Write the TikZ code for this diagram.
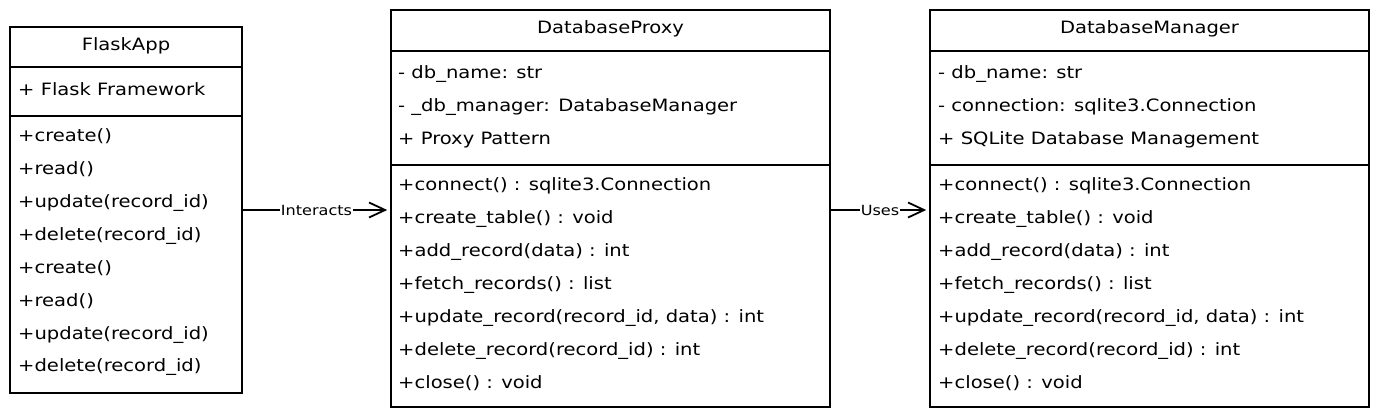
\documentclass[tikz,border=0pt]{standalone}
\usepackage{fontspec}
\setmainfont{DejaVu Sans}[FakeStretch=1.15]
\usetikzlibrary{arrows.meta}

\tikzset{
  classbox/.style={draw, line width=1.6pt, inner sep=0pt},
  divider/.style={line width=1.2pt},
  classtitle/.style={anchor=base, inner sep=0pt, font=\fontsize{17}{20}\selectfont},
  member/.style={anchor=base west, inner sep=0pt, font=\fontsize{17}{20}\selectfont},
  link/.style={line width=1.8pt, shorten >=3pt,
    -{Straight Barb[length=16pt,width=15pt,line width=1.8pt]}},
  linklabel/.style={fill=white, inner sep=1pt, font=\fontsize{14}{16}\selectfont}
}

\begin{document}
\begin{tikzpicture}[x=1pt,y=-1pt]
  \useasboundingbox (0,0) rectangle (1379,418);

  % Class boxes
  \node[classbox, minimum width=232pt, minimum height=366pt] (flask) at (126,210) {};
  \node[classbox, minimum width=439pt, minimum height=397pt] (proxy) at (610.5,208.5) {};
  \node[classbox, minimum width=439pt, minimum height=397pt] (manager) at (1149.5,208.5) {};

  % FlaskApp
  \node[classtitle] (flaskName) at (126,50) {FlaskApp};
  \draw[divider] (flask.west |- 0,67) -- (flask.east |- 0,67);
  \node[member] (flaskA1) at (18,95) {+ Flask Framework};
  \draw[divider] (flask.west |- 0,116) -- (flask.east |- 0,116);
  \node[member] (flaskM1) at (18,141) {+create()};
  \node[member] (flaskM2) at (18,174) {+read()};
  \node[member] (flaskM3) at (18,207) {+update(record\_id)};
  \node[member] (flaskM4) at (18,240) {+delete(record\_id)};
  \node[member] (flaskM5) at (18,273) {+create()};
  \node[member] (flaskM6) at (18,306) {+read()};
  \node[member] (flaskM7) at (18,339) {+update(record\_id)};
  \node[member] (flaskM8) at (18,371) {+delete(record\_id)};

  % DatabaseProxy
  \node[classtitle] (proxyName) at (610.5,33) {DatabaseProxy};
  \draw[divider] (proxy.west |- 0,51) -- (proxy.east |- 0,51);
  \node[member] (proxyA1) at (398,78) {- db\_name: str};
  \node[member] (proxyA2) at (398,111) {- \_db\_manager: DatabaseManager};
  \node[member] (proxyA3) at (398,144) {+ Proxy Pattern};
  \draw[divider] (proxy.west |- 0,165) -- (proxy.east |- 0,165);
  \node[member] (proxyM1) at (398,190) {+connect() : sqlite3.Connection};
  \node[member] (proxyM2) at (398,223) {+create\_table() : void};
  \node[member] (proxyM3) at (398,256) {+add\_record(data) : int};
  \node[member] (proxyM4) at (398,289) {+fetch\_records() : list};
  \node[member] (proxyM5) at (398,322) {+update\_record(record\_id, data) : int};
  \node[member] (proxyM6) at (398,355) {+delete\_record(record\_id) : int};
  \node[member] (proxyM7) at (398,388) {+close() : void};

  % DatabaseManager
  \node[classtitle] (managerName) at (1149.5,33) {DatabaseManager};
  \draw[divider] (manager.west |- 0,51) -- (manager.east |- 0,51);
  \node[member] (managerA1) at (938,78) {- db\_name: str};
  \node[member] (managerA2) at (938,111) {- connection: sqlite3.Connection};
  \node[member] (managerA3) at (938,144) {+ SQLite Database Management};
  \draw[divider] (manager.west |- 0,165) -- (manager.east |- 0,165);
  \node[member] (managerM1) at (938,190) {+connect() : sqlite3.Connection};
  \node[member] (managerM2) at (938,223) {+create\_table() : void};
  \node[member] (managerM3) at (938,256) {+add\_record(data) : int};
  \node[member] (managerM4) at (938,289) {+fetch\_records() : list};
  \node[member] (managerM5) at (938,322) {+update\_record(record\_id, data) : int};
  \node[member] (managerM6) at (938,355) {+delete\_record(record\_id) : int};
  \node[member] (managerM7) at (938,388) {+close() : void};

  % Relations
  \draw[link] (flask.east) -- node[linklabel] {Interacts} (proxy.west |- flask.east);
  \draw[link] (proxy.east |- flask.east) -- node[linklabel] {Uses} (manager.west |- flask.east);
\end{tikzpicture}
\end{document}
